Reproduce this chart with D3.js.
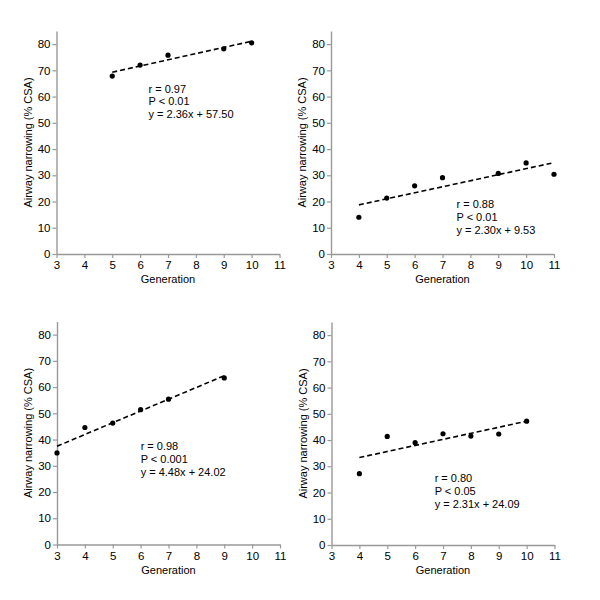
<!DOCTYPE html>
<html>
<head>
<meta charset="utf-8">
<script src="https://cdn.jsdelivr.net/npm/d3@7"></script>
<style>
  body { margin: 0; background: #fff; }
  svg { font-family: "Liberation Sans", Arial, sans-serif; }
</style>
</head>
<body>
<div id="chart"></div>
<script>
// Panel A (top left)
var genA = [5, 6, 7, 9, 10];
var narrowA = [67.8, 72.0, 75.8, 78.2, 80.5];
var fitA = [2.36, 57.50];
var statsA = ["r = 0.97", "P < 0.01", "y = 2.36x + 57.50"];

// Panel B (top right)
var genB = [4, 5, 6, 7, 9, 10, 11];
var narrowB = [14.0, 21.3, 26.0, 29.1, 30.7, 34.7, 30.4];
var fitB = [2.30, 9.53];
var statsB = ["r = 0.88", "P < 0.01", "y = 2.30x + 9.53"];

// Panel C (bottom left)
var genC = [3, 4, 5, 6, 7, 9];
var narrowC = [34.9, 44.6, 46.3, 51.4, 55.4, 63.5];
var fitC = [4.48, 24.02];
var statsC = ["r = 0.98", "P < 0.001", "y = 4.48x + 24.02"];

// Panel D (bottom right)
var genD = [4, 5, 6, 7, 8, 9, 10];
var narrowD = [27.2, 41.4, 39.0, 42.4, 41.5, 42.3, 47.2];
var fitD = [2.31, 24.09];
var statsD = ["r = 0.80", "P < 0.05", "y = 2.31x + 24.09"];

var xTicks = [3, 4, 5, 6, 7, 8, 9, 10, 11];
var yTicks = [0, 10, 20, 30, 40, 50, 60, 70, 80];

var svg = d3.select('#chart').append('svg')
    .attr('width', 600)
    .attr('height', 600);

// each panel: plot box + where the stats text sits (in data units)
var panels = [
    { gen: genA, val: narrowA, fit: fitA, stats: statsA, left: 56.5, top: 31, textAt: [6.3, 61.5] },
    { gen: genB, val: narrowB, fit: fitB, stats: statsB, left: 331, top: 31, textAt: [7.5, 17.5] },
    { gen: genC, val: narrowC, fit: fitC, stats: statsC, left: 57, top: 321.5, textAt: [6.0, 36.0] },
    { gen: genD, val: narrowD, fit: fitD, stats: statsD, left: 331.5, top: 322, textAt: [6.7, 24.0] }
];

var pw = 223, ph = 223;

panels.forEach(function (p) {
    var g = svg.append('g').attr('transform', 'translate(' + p.left + ',' + p.top + ')');

    var x = d3.scaleLinear().domain([3, 11]).range([0, pw]);
    var y = d3.scaleLinear().domain([0, 85]).range([ph, 0]);

    var xAxis = g.append('g')
        .attr('transform', 'translate(0,' + ph + ')')
        .call(d3.axisBottom(x).tickValues(xTicks).tickSize(4).tickPadding(3).tickSizeOuter(0));
    var yAxis = g.append('g')
        .call(d3.axisLeft(y).tickValues(yTicks).tickSize(4).tickPadding(2).tickSizeOuter(0));

    [xAxis, yAxis].forEach(function (a) {
        a.select('.domain').attr('stroke', '#999').attr('stroke-width', 1.4);
        a.selectAll('.tick line').attr('stroke', '#999').attr('stroke-width', 1.2);
        a.selectAll('.tick text')
            .attr('fill', '#000')
            .style('font-size', '11.5px')
            .style('font-family', '"Liberation Sans", Arial, sans-serif');
    });

    g.append('text')
        .attr('x', pw / 2)
        .attr('y', ph + 29)
        .attr('text-anchor', 'middle')
        .style('font-size', '11px')
        .text('Generation');

    g.append('text')
        .attr('transform', 'translate(-25,' + (ph / 2) + ') rotate(-90)')
        .attr('text-anchor', 'middle')
        .style('font-size', '11px')
        .text('Airway narrowing (% CSA)');

    // regression line over the data range
    var xs = d3.extent(p.gen);
    g.append('line')
        .attr('x1', x(xs[0]))
        .attr('y1', y(p.fit[0] * xs[0] + p.fit[1]))
        .attr('x2', x(xs[1]))
        .attr('y2', y(p.fit[0] * xs[1] + p.fit[1]))
        .attr('stroke', '#000')
        .attr('stroke-width', 1.6)
        .attr('stroke-dasharray', '5,3');

    g.selectAll('circle.pt')
        .data(p.gen)
        .enter().append('circle')
        .attr('class', 'pt')
        .attr('cx', function (d) { return x(d); })
        .attr('cy', function (d, i) { return y(p.val[i]); })
        .attr('r', 2.6)
        .attr('fill', '#000');

    var txt = g.append('text')
        .attr('x', x(p.textAt[0]))
        .attr('y', y(p.textAt[1]))
        .style('font-size', '11px');
    p.stats.forEach(function (s, i) {
        txt.append('tspan')
            .attr('x', x(p.textAt[0]))
            .attr('dy', i === 0 ? 0 : 12.8)
            .text(s);
    });
});
</script>
</body>
</html>
